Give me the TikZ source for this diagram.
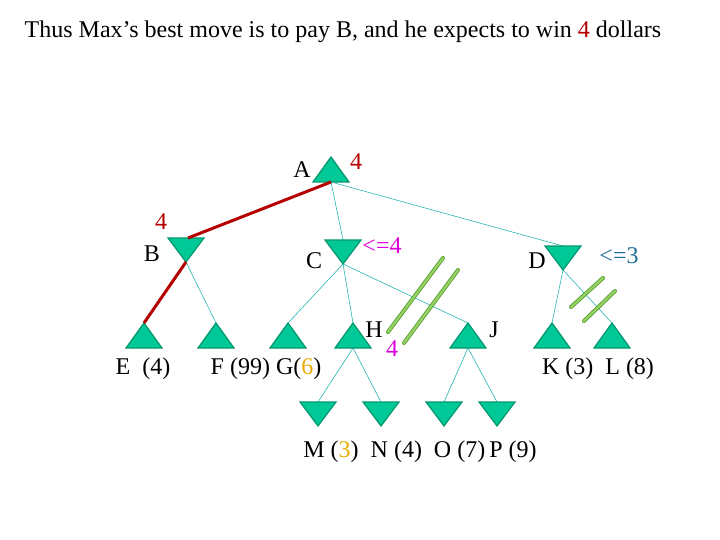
\documentclass[tikz,border=0pt]{standalone}
\usepackage{fontspec}
\setmainfont{Liberation Serif}
\begin{document}
\begin{tikzpicture}[x=1pt,y=-1pt,
  tri/.style={fill=tfill,draw=tline,line width=1.2pt,line join=miter},
  edge/.style={draw=ecol,line width=0.6pt},
  best/.style={draw=bred,line width=3pt},
  lbl/.style={font=\fontsize{24}{28}\selectfont,inner sep=0pt},
  prune/.style={draw=pdark,line width=4pt,line cap=round},
  prunein/.style={draw=plight,line width=2.2pt,line cap=round}]
\definecolor{tfill}{RGB}{0,200,150}
\definecolor{tline}{RGB}{0,150,110}
\definecolor{ecol}{RGB}{40,180,180}
\definecolor{bred}{RGB}{180,0,0}
\definecolor{pdark}{RGB}{90,160,50}
\definecolor{plight}{RGB}{150,210,100}
\definecolor{mag}{RGB}{220,0,220}
\definecolor{orng}{RGB}{230,170,0}
\definecolor{tblue}{RGB}{30,110,150}
\useasboundingbox (0,0) rectangle (720,540);
\newcommand{\uptri}[3]{\coordinate (#1) at (#2,#3); \coordinate (#1b) at (#2,#3+25);
  \filldraw[tri] (#2,#3) -- (#2-18,#3+25) -- (#2+18,#3+25) -- cycle;}
\newcommand{\dntri}[3]{\coordinate (#1) at (#2,#3); \coordinate (#1t) at (#2,#3-24);
  \filldraw[tri] (#2,#3) -- (#2-18,#3-24) -- (#2+18,#3-24) -- cycle;}
\coordinate (Ab) at (331,182);
\coordinate (Bt) at (186,238); \coordinate (Ct) at (343,240); \coordinate (Dt) at (563,246);
\coordinate (B) at (186,262); \coordinate (C) at (343,264); \coordinate (D) at (563,270);
\coordinate (E) at (144,323); \coordinate (F) at (216,323); \coordinate (G) at (288,323);
\coordinate (H) at (353,323); \coordinate (J) at (468,323); \coordinate (K) at (552,323); \coordinate (L) at (612,323);
\coordinate (Hb) at (353,348); \coordinate (Jb) at (468,348);
\coordinate (Mt) at (318,402); \coordinate (Nt) at (381,402); \coordinate (Ot) at (444,402); \coordinate (Pt) at (497,402);
\draw[edge] (Ab) -- (Ct); \draw[edge] (Ab) -- (Dt);
\draw[edge] (B) -- (F);
\draw[edge] (C) -- (G); \draw[edge] (C) -- (H); \draw[edge] (C) -- (J);
\draw[edge] (D) -- (K); \draw[edge] (D) -- (L);
\draw[edge] (Hb) -- (Mt); \draw[edge] (Hb) -- (Nt); \draw[edge] (Jb) -- (Ot); \draw[edge] (Jb) -- (Pt);
\uptri{A}{331}{157}
\dntri{Bn}{186}{262} \dntri{Cn}{343}{264} \dntri{Dn}{563}{270}
\uptri{En}{144}{323} \uptri{Fn}{216}{323} \uptri{Gn}{288}{323} \uptri{Hn}{353}{323}
\uptri{Jn}{468}{323} \uptri{Kn}{552}{323} \uptri{Ln}{612}{323}
\dntri{Mn}{318}{426} \dntri{Nn}{381}{426} \dntri{On}{444}{426} \dntri{Pn}{497}{426}
\draw[best] (Ab) -- (188,238);
\draw[best] (B) -- (E);
\foreach \a/\b in {{(388,332)}/{(443,258)},{(404,343)}/{(458,270)},{(571,307)}/{(603,278)},{(584,321)}/{(615,291)}}{
  \draw[prune] \a -- \b; \draw[prunein] \a -- \b;}
\node[lbl] (title) at (343,32) {Thus Max’s best move is to pay B, and he expects to win \textcolor{bred}{4} dollars};
\node[lbl] (lA) at (302,170) {A};
\node[lbl,text=bred] (vA) at (356,162) {4};
\node[lbl,text=bred] (vB) at (161,222) {4};
\node[lbl] (lB) at (152,254) {B};
\node[lbl] (lC) at (314,261) {C};
\node[lbl,text=mag] (vC) at (382,246) {<=4};
\node[lbl] (lD) at (537,261) {D};
\node[lbl,text=tblue] (vD) at (619,256) {<=3};
\node[lbl] (lH) at (374,330) {H};
\node[lbl,text=mag] (vH) at (392,349) {4};
\node[lbl] (lJ) at (494,330) {J};
\node[lbl] (lE) at (143,369) {E\ \ (4)};
\node[lbl] (lFG) at (266,369) {F (99) G(\textcolor{orng}{6})};
\node[lbl] (lKL) at (598,369) {K (3)\ \ L (8)};
\node[lbl] (lMP) at (420,452) {M (\textcolor{orng}{3})\ \ N (4)\ \ O (7)\,P (9)};
\end{tikzpicture}
\end{document}
